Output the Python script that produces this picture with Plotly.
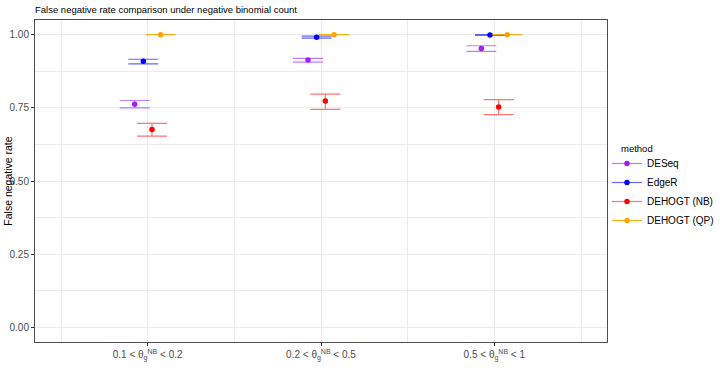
import plotly.graph_objects as go

# ---- data ----
categories = ["0.1 < θ<sub>g</sub><sup>NB</sup> < 0.2",
              "0.2 < θ<sub>g</sub><sup>NB</sup> < 0.5",
              "0.5 < θ<sub>g</sub><sup>NB</sup> < 1"]
methods = ["DESeq", "EdgeR", "DEHOGT (NB)", "DEHOGT (QP)"]

deseq_fnr = [0.762, 0.913, 0.953]
deseq_lo = [0.750, 0.906, 0.943]
deseq_hi = [0.775, 0.919, 0.962]

edger_fnr = [0.909, 0.991, 0.999]
edger_lo = [0.900, 0.988, 0.997]
edger_hi = [0.916, 0.995, 1.000]

nb_fnr = [0.676, 0.773, 0.753]
nb_lo = [0.653, 0.745, 0.727]
nb_hi = [0.697, 0.797, 0.778]

qp_fnr = [1.000, 1.000, 1.000]
qp_lo = [1.000, 1.000, 1.000]
qp_hi = [1.000, 1.000, 1.000]

values = [deseq_fnr, edger_fnr, nb_fnr, qp_fnr]
lows = [deseq_lo, edger_lo, nb_lo, qp_lo]
highs = [deseq_hi, edger_hi, nb_hi, qp_hi]
colors = ["#A020F0", "#0000FF", "#FF0000", "#FFA500"]
err_colors = ["rgba(160,32,240,0.6)", "rgba(0,0,255,0.6)",
              "rgba(255,0,0,0.55)", "rgba(255,165,0,0.9)"]

FONT = "Arial, Liberation Sans, sans-serif"
W, H = 720, 375
PL, PR, PT, PB = 35, 611, 20, 342   # plot area in page pixels
dodge = 0.05
cat_pos = list(range(1, len(categories) + 1))

fig = go.Figure()
n = len(methods)
for i, name in enumerate(methods):
    val, lo, hi = values[i], lows[i], highs[i]
    off = (i - (n - 1) / 2) * dodge
    xs = [p + off for p in cat_pos]
    fig.add_trace(go.Scatter(
        x=xs, y=val, mode="markers", name=name, showlegend=False,
        marker=dict(color=colors[i], size=5.5),
        error_y=dict(type="data", symmetric=False,
                     array=[h - v for h, v in zip(hi, val)],
                     arrayminus=[v - l for v, l in zip(val, lo)],
                     color=err_colors[i], thickness=1.2, width=15),
    ))
    # legend key (point + line)
    fig.add_trace(go.Scatter(
        x=[None], y=[None], mode="lines+markers", name=name,
        line=dict(color=err_colors[i], width=1.2),
        marker=dict(color=colors[i], size=5.5),
    ))

fig.update_layout(
    width=W, height=H,
    margin=dict(l=PL, r=W - PR, t=PT, b=H - PB),
    paper_bgcolor="white", plot_bgcolor="white",
    font=dict(family=FONT, size=10, color="#4D4D4D"),
    title=dict(text="False negative rate comparison under negative binomial count",
               x=35 / W, xanchor="left", xref="container",
               y=1 - 10 / H, yanchor="middle",
               font=dict(family=FONT, size=9.5, color="black")),
    legend=dict(xref="container", yref="container",
                x=607 / W, xanchor="left",
                y=1 - 149 / H, yanchor="top",
                font=dict(size=10, color="black"),
                bgcolor="rgba(0,0,0,0)", itemwidth=30, tracegroupgap=0),
    showlegend=True,
)

fig.update_xaxes(
    range=[0.35, 3.65], tickvals=cat_pos, ticktext=categories, automargin=False,
    showgrid=True, gridcolor="#EBEBEB", gridwidth=1,
    minor=dict(tick0=0.5, dtick=1, showgrid=True, gridcolor="#EBEBEB", gridwidth=0.5),
    ticks="outside", ticklen=3, tickcolor="#333333",
    showline=True, mirror=True, linecolor="#4D4D4D", linewidth=1,
    zeroline=False, tickfont=dict(size=10, color="#4D4D4D"),
)
fig.update_yaxes(
    range=[-0.05, 1.05], tickvals=[0, 0.25, 0.5, 0.75, 1.0], automargin=False,
    ticktext=["0.00", "0.25", "0.50", "0.75", "1.00"],
    showgrid=True, gridcolor="#EBEBEB", gridwidth=1,
    minor=dict(tick0=0.125, dtick=0.25, showgrid=True, gridcolor="#EBEBEB", gridwidth=0.5),
    ticks="outside", ticklen=3, tickcolor="#333333",
    showline=True, mirror=True, linecolor="#4D4D4D", linewidth=1,
    zeroline=False, tickfont=dict(size=10, color="#4D4D4D"),
)

pw = PR - PL
ph = PB - PT
fig.add_annotation(text="False negative rate", textangle=-90,
                   xref="paper", yref="paper", x=(7.5 - PL) / pw, y=0.5,
                   xanchor="center", yanchor="middle", showarrow=False,
                   font=dict(family=FONT, size=10.5, color="black"))
fig.add_annotation(text="method",
                   xref="paper", yref="paper", x=(623 - PL) / pw, y=(PB - 148) / ph,
                   xanchor="left", yanchor="middle", showarrow=False,
                   font=dict(family=FONT, size=9.5, color="black"))

fig.write_html("out.html", config={"displayModeBar": False},
               post_script="document.body.style.margin='0';document.body.style.overflow='hidden';")
